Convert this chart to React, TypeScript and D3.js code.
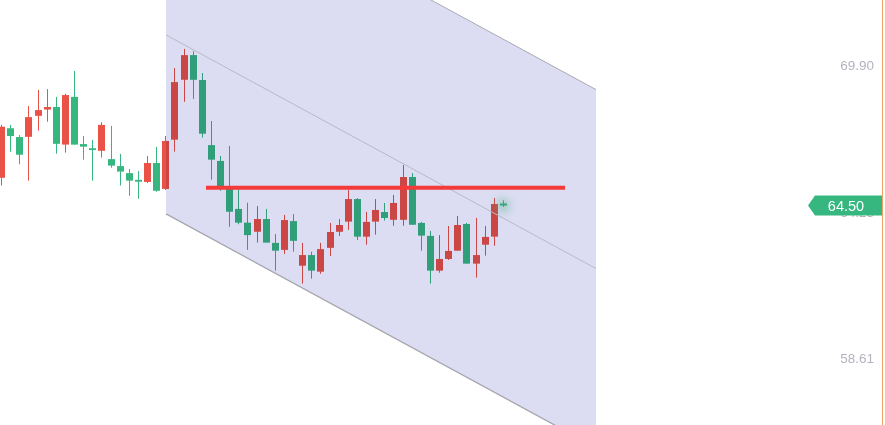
import React from "react";
import * as d3 from "d3";

// OHLC (red = close > open, green = close < open)
const opens = [65.57, 67.48, 67.14, 67.15, 67.96, 68.20, 68.30, 66.85, 68.69, 66.87, 66.71, 66.61, 66.29, 66.02, 65.75, 65.49, 65.41, 66.14, 65.14, 67.04, 69.35, 70.30, 69.34, 66.83, 66.22, 65.25, 64.37, 63.84, 63.49, 63.98, 63.06, 62.79, 63.90, 62.18, 62.59, 61.95, 62.87, 63.49, 63.88, 64.75, 63.30, 63.88, 64.25, 63.95, 63.95, 65.60, 63.83, 63.33, 61.99, 62.44, 62.76, 63.79, 62.26, 62.99, 63.30, 64.58];
const highs = [67.61, 67.61, 67.22, 68.34, 68.96, 68.99, 68.69, 68.81, 69.69, 67.18, 67.03, 67.71, 67.57, 66.49, 65.91, 65.83, 66.41, 66.76, 67.18, 69.80, 70.54, 70.45, 69.61, 67.76, 66.41, 66.80, 65.11, 64.61, 64.48, 64.37, 63.40, 64.14, 64.17, 63.06, 62.72, 63.06, 63.83, 63.98, 65.10, 64.79, 64.26, 64.75, 64.60, 64.91, 66.06, 65.75, 63.87, 63.52, 63.36, 63.71, 64.10, 63.83, 64.02, 63.71, 64.79, 64.70];
const lows = [65.27, 66.58, 66.09, 65.46, 67.39, 67.73, 66.50, 66.54, 66.85, 66.27, 65.46, 66.35, 65.96, 65.27, 64.88, 64.76, 65.37, 65.03, 65.10, 66.58, 68.50, 68.61, 67.12, 65.50, 65.07, 63.68, 63.78, 62.79, 63.07, 63.07, 61.99, 62.64, 62.72, 61.49, 61.68, 61.87, 62.55, 63.33, 63.56, 63.17, 62.99, 63.38, 63.92, 63.72, 63.72, 63.76, 62.76, 61.49, 61.91, 62.40, 62.76, 62.26, 61.72, 62.57, 62.95, 64.45];
const closes = [67.54, 67.18, 66.46, 67.91, 68.18, 68.30, 66.88, 68.76, 66.85, 66.77, 66.64, 67.61, 66.04, 65.81, 65.46, 65.42, 66.14, 65.07, 66.99, 69.26, 70.30, 69.35, 67.27, 66.27, 65.22, 64.26, 63.84, 63.36, 63.98, 63.07, 62.76, 63.94, 63.14, 62.59, 61.99, 62.82, 63.48, 63.75, 64.75, 63.30, 63.87, 64.33, 64.02, 64.60, 65.60, 63.76, 63.34, 61.99, 62.44, 62.75, 63.75, 62.26, 62.59, 63.29, 64.56, 64.50];

const axisLabels = ["69.90", "64.25", "58.61"];
const lastPrice = 64.5;

// Parallel channel: [startIndex, endIndex], middle-line prices, half width
const channelIdx = [18.08, 65.19];
const channelMid = [71.08, 62.07];
const channelHalf = 6.9;

// Horizontal level
const levelIdx = [22.46, 61.8];
const levelPrice = 65.19;

const W = 885;
const H = 425;

export default function App() {
  const x = d3.scaleLinear().domain([0, opens.length - 1]).range([1, 503]);
  const y = d3.scaleLinear().domain([58.61, 69.9]).range([358.3, 65.5]);

  const up = "#ea5248";
  const down = "#36b77f";
  const bw = 7;

  const candles = opens.map((o, i) => {
    const c = closes[i];
    const isUp = c >= o;
    const col = isUp ? up : down;
    const cx = Math.round(x(i)) + 0.5;
    const top = y(Math.max(o, c));
    const bot = y(Math.min(o, c));
    return (
      <g key={i}>
        <line x1={cx} x2={cx} y1={y(highs[i])} y2={y(lows[i])} stroke={col} strokeWidth={1} />
        <rect x={cx - bw / 2} y={top} width={bw} height={Math.max(1, bot - top)} fill={col} />
      </g>
    );
  });

  const cx0 = x(channelIdx[0]);
  const cx1 = x(channelIdx[1]);
  const topLine = [
    [cx0, y(channelMid[0] + channelHalf)],
    [cx1, y(channelMid[1] + channelHalf)],
  ];
  const botLine = [
    [cx0, y(channelMid[0] - channelHalf)],
    [cx1, y(channelMid[1] - channelHalf)],
  ];
  const midLine = [
    [cx0, y(channelMid[0])],
    [cx1, y(channelMid[1])],
  ];
  const poly = [topLine[0], topLine[1], botLine[1], botLine[0]]
    .map((p) => p.join(","))
    .join(" ");

  const lastI = opens.length - 1;
  const ly = y(lastPrice);

  return (
    <svg
      width={W}
      height={H}
      style={{ position: "absolute", left: 0, top: 0, background: "#fff" }}
      fontFamily="'Liberation Sans', Arial, sans-serif"
    >
      <defs>
        <filter id="glow" x="-100%" y="-100%" width="300%" height="300%">
          <feGaussianBlur stdDeviation="4" />
        </filter>
      </defs>
      <rect x={0} y={0} width={W} height={H} fill="#fff" />
      {candles}
      <circle cx={x(lastI)} cy={y(closes[lastI])} r={7} fill="#5fd08a" opacity={0.45} filter="url(#glow)" />
      <polygon points={poly} fill="#dcddf3" style={{ mixBlendMode: "multiply" }} />
      <line x1={topLine[0][0]} y1={topLine[0][1]} x2={topLine[1][0]} y2={topLine[1][1]} stroke="#a9a9b3" strokeWidth={1} />
      <line x1={midLine[0][0]} y1={midLine[0][1]} x2={midLine[1][0]} y2={midLine[1][1]} stroke="#b9b9c6" strokeWidth={1} />
      <line x1={botLine[0][0]} y1={botLine[0][1]} x2={botLine[1][0]} y2={botLine[1][1]} stroke="#a6a6ae" strokeWidth={1.3} />
      <line
        x1={x(levelIdx[0])}
        x2={x(levelIdx[1])}
        y1={y(levelPrice)}
        y2={y(levelPrice)}
        stroke="#f53a3a"
        strokeWidth={4}
      />
      {axisLabels.map((t) => (
        <text
          key={t}
          x={874}
          y={y(+t)}
          textAnchor="end"
          dominantBaseline="central"
          fontSize={13.5}
          fill="#b3b3c0"
        >
          {t}
        </text>
      ))}
      <polygon
        points={`808,${ly} 815,${ly - 10} 882,${ly - 10} 882,${ly + 10} 815,${ly + 10}`}
        fill="#36b77f"
      />
      <text x={846} y={ly} textAnchor="middle" dominantBaseline="central" fontSize={14.5} fill="#fff">
        {lastPrice.toFixed(2)}
      </text>
      <line x1={882.5} x2={882.5} y1={0} y2={H} stroke="#f6a15e" strokeWidth={1} />
    </svg>
  );
}
